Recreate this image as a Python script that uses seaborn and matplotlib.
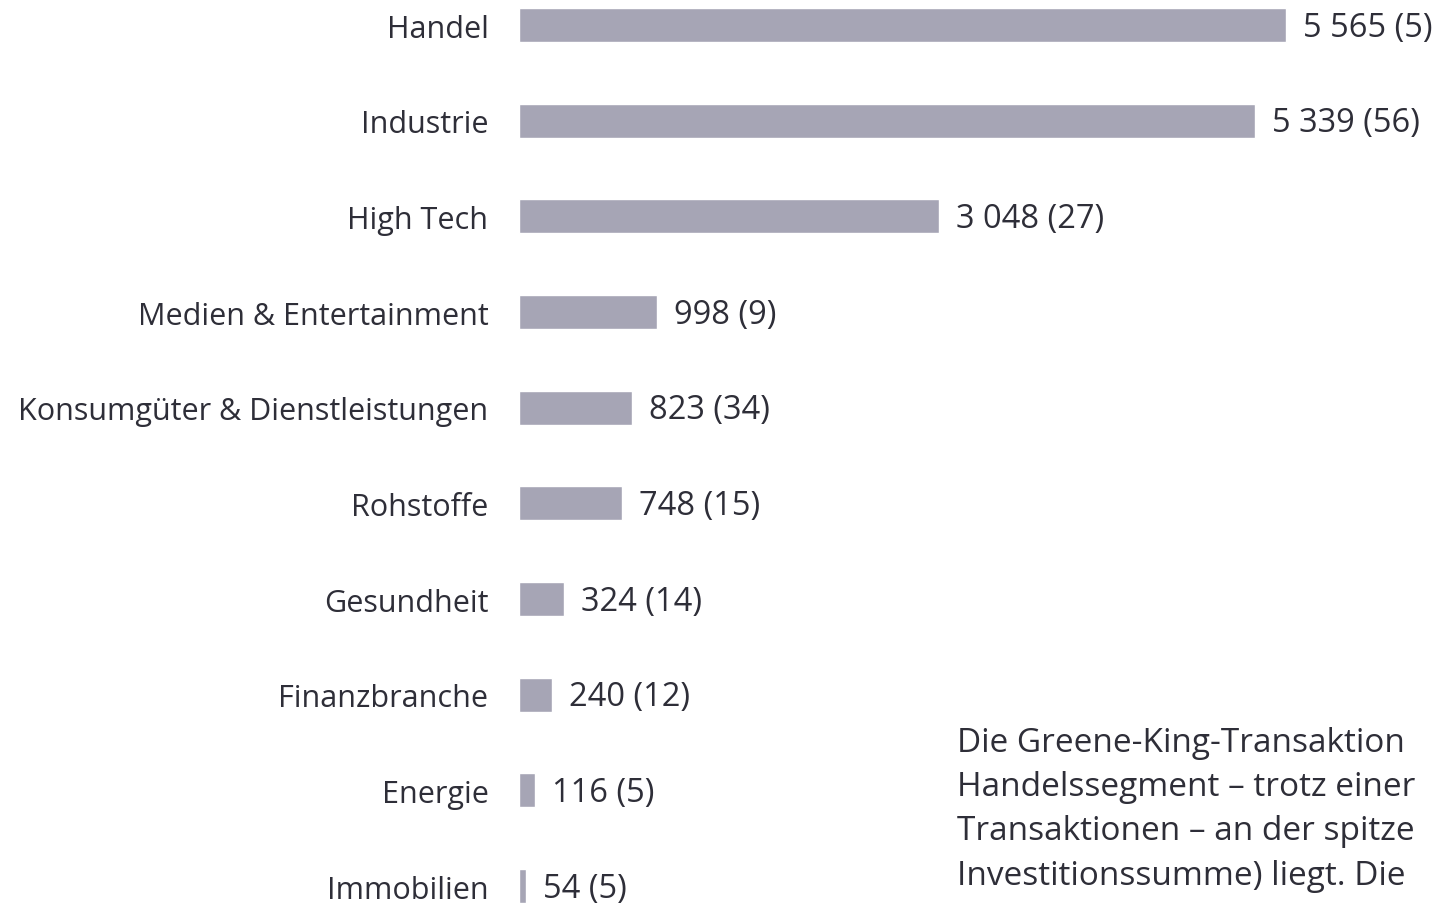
import seaborn as sns
import pandas as pd
import matplotlib.pyplot as plt

# data
branchen = ["Handel", "Industrie", "High Tech", "Medien & Entertainment",
            "Konsumgüter & Dienstleistungen", "Rohstoffe", "Gesundheit",
            "Finanzbranche", "Energie", "Immobilien"]
volumen = [5565, 5339, 3048, 998, 823, 748, 324, 240, 116, 54]
anzahl = [5, 56, 27, 9, 34, 15, 14, 12, 5, 5]

# note text, as far as the reference shows it
notiz = ["Die Greene-King-Transaktion",
         "Handelssegment \u2013 trotz einer",
         "Transaktionen \u2013 an der spitze",
         "Investitionssumme) liegt. Die"]

df = pd.DataFrame({"Branche": branchen, "Volumen": volumen, "Anzahl": anzahl})

sns.set_style("white")
plt.rcParams["font.family"] = ["Open Sans", "DejaVu Sans"]
txt = "#2e2e38"
bar = "#a6a5b5"

fig = plt.figure(figsize=(14.45, 9.04), dpi=100)
ax = fig.add_axes([519 / 1445, 0, 926 / 1445, 1])
sns.barplot(data=df, x="Volumen", y="Branche", orient="h", color=bar,
            width=0.355, saturation=1, ax=ax)

ax.set_xlim(0, 926 / 0.1378)
ax.set_ylim((904 - 26) / 95.67, -26 / 95.67)

for i, (v, n) in enumerate(zip(volumen, anzahl)):
    lbl = f"{v:,}".replace(",", " ") + f" ({n})"
    ax.annotate(lbl, (v, i), xytext=(17, -2), textcoords="offset pixels",
                va="center", ha="left", fontsize=23.5, color=txt)

ax.set_yticks(range(len(branchen)))
ax.set_yticklabels(branchen, fontsize=22, color=txt)
ax.tick_params(axis="y", length=0, pad=22)
ax.set_xticks([])
ax.set_xlabel("")
ax.set_ylabel("")
sns.despine(ax=ax, left=True, bottom=True)

for k, line in enumerate(notiz):
    fig.text(957 / 1445, 1 - (743 + k * 44.5) / 904, line, fontsize=24,
             color=txt, va="center", ha="left")

fig.savefig("out.png", dpi=100)
